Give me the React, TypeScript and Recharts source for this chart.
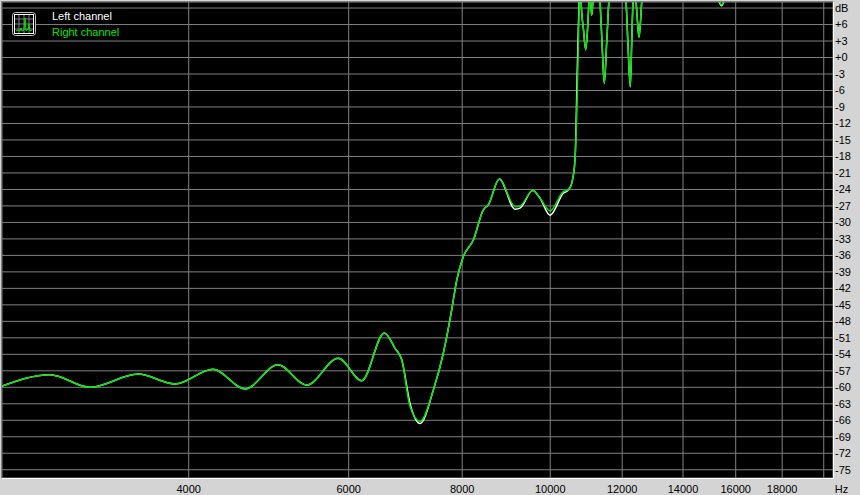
import { LineChart, Line, XAxis, YAxis, CartesianGrid } from 'recharts'

// frequency points (Hz)
const freqs = [
  2480, 2814, 3114, 3518, 3864, 4254, 4614, 5015, 5394, 5844,
  6202, 6568, 6748, 6864, 7010, 7189, 7436, 7626, 7790, 7890,
  8023, 8229, 8440, 8548, 8789, 9146, 9262, 9566, 9744, 9994,
  10337, 10468, 10559, 10648, 10710, 10740, 10770, 10790, 10811, 10880,
  10940, 10990, 11032, 11060, 11080, 11108, 11140, 11250, 11344, 11400,
  11468, 11540, 11605, 11870, 12116, 12180, 12249, 12290, 12333, 12380,
  12427, 12475, 12522, 12570, 12618, 13800, 15300, 15439, 15570, 18000, 20800,
]

const rightDb = [
  -59.9, -57.7, -60.0, -57.6, -59.4, -56.7, -60.3, -55.9, -59.6, -54.7,
  -58.8, -50.1, -52.9, -55.0, -63.5, -66.2, -60.5, -53.8, -45.9, -40.5,
  -36.2, -33.2, -27.7, -26.8, -22.1, -27.1, -27.0, -24.2, -25.6, -27.9,
  -24.4, -24.1, -22.9, -18.6, -6, 3, 12, 16, 10.5, 5,
  1.4, 5, 10.5, 14, 10, 7.7, 10, 20, 10.5, 3,
  -4.7, 3, 10.5, 22, 10.5, 2, -5.3, 2, 10.5, 14,
  10.5, 6.5, 3.7, 6.5, 10.5, 20, 10.6, 9.6, 10.6, 18, 16,
]

const leftDb = [
  -59.9, -57.7, -60.0, -57.6, -59.4, -56.7, -60.3, -55.9, -59.6, -54.7,
  -58.8, -50.1, -52.9, -55.0, -63.0, -66.6, -60.5, -53.8, -45.9, -40.5,
  -36.2, -33.2, -27.7, -26.8, -22.1, -27.6, -27.4, -24.2, -25.6, -28.7,
  -24.7, -24.1, -22.9, -18.6, -2, 6, 12, 16, 10.5, 5,
  1.4, 5, 10.5, 14, 10, 7.7, 10, 20, 10.5, 3,
  -4.7, 3, 10.5, 22, 10.5, 2, -5.3, 2, 10.5, 14,
  10.5, 6.5, 3.7, 6.5, 10.5, 20, 10.6, 9.4, 10.6, 18, 16,
]

const xTicks = [4000, 6000, 8000, 10000, 12000, 14000, 16000, 18000, 20000]
const yTicks = [
  9, 6, 3, 0, -3, -6, -9, -12, -15, -18, -21, -24, -27, -30, -33, -36, -39,
  -42, -45, -48, -51, -54, -57, -60, -63, -66, -69, -72, -75,
]

const data = freqs.map((f, i) => ({ f, left: leftDb[i], right: rightDb[i] }))

const FONT = '"Liberation Sans", Arial, sans-serif'
const GREEN = '#00e400'
const GRID = '#808080'

function XTick({ x, y, payload }: any) {
  if (payload.value === 20000) {
    return (
      <text x={x + 11} y={y + 13} fontSize={11} fontFamily={FONT} fill="#000" textAnchor="start">
        Hz
      </text>
    )
  }
  return (
    <text x={x} y={y + 13} fontSize={11} fontFamily={FONT} fill="#000" textAnchor="middle">
      {payload.value}
    </text>
  )
}

const yLabel = (v: number) => (v === 9 ? 'dB' : v >= 0 ? `+${v}` : `${v}`)

function LegendIcon() {
  return (
    <svg width={24} height={24} style={{ position: 'absolute', left: 12, top: 12 }}>
      <rect x={0.5} y={0.5} width={23} height={23} rx={3} fill="#000" stroke="#c0c0c0" />
      <rect x={2.5} y={2.5} width={19} height={19} fill="none" stroke="#fff" />
      {[7, 12, 17].map(p => (
        <g key={p}>
          <line x1={p} y1={3} x2={p} y2={21} stroke={GRID} />
          <line x1={3} y1={p} x2={21} y2={p} stroke={GRID} />
        </g>
      ))}
      <polyline
        points="4,19 6,18 8,19 9,16 10,19 12,18 13,6 14,19 16,17 17,12 18,19 20,18"
        fill="none"
        stroke={GREEN}
      />
    </svg>
  )
}

export default function App() {
  return (
    <div style={{ position: 'absolute', left: 0, top: 0, width: 860, height: 495, background: '#d4d4d4' }}>
      <LineChart width={860} height={495} data={data} margin={{ top: 2, right: 0, bottom: 0, left: 2 }}>
        <CartesianGrid fill="#000" stroke={GRID} strokeWidth={1} />
        <XAxis
          dataKey="f"
          type="number"
          scale="log"
          domain={[2492, 20475]}
          allowDataOverflow
          ticks={xTicks}
          interval={0}
          height={17}
          tickLine={false}
          axisLine={false}
          tickSize={0}
          tick={<XTick />}
        />
        <YAxis
          orientation="right"
          type="number"
          domain={[-76.5, 10.1]}
          allowDataOverflow
          ticks={yTicks}
          interval={0}
          width={27}
          tickLine={false}
          axisLine={false}
          tickSize={0}
          tickMargin={2}
          tickFormatter={yLabel}
          tick={{ fontSize: 11, fill: '#000', fontFamily: FONT }}
        />
        <Line
          type="monotone"
          dataKey="left"
          stroke="#ffffff"
          strokeWidth={1.5}
          dot={false}
          isAnimationActive={false}
        />
        <Line
          type="monotone"
          dataKey="right"
          stroke={GREEN}
          strokeWidth={1.5}
          dot={false}
          isAnimationActive={false}
        />
      </LineChart>

      {/* sunken frame round the plot */}
      <div
        style={{
          position: 'absolute',
          left: 1,
          top: 1,
          width: 833,
          height: 478,
          boxSizing: 'border-box',
          borderTop: `1px solid ${GRID}`,
          borderLeft: `1px solid ${GRID}`,
          borderRight: '1px solid #fff',
          borderBottom: '1px solid #fff',
          pointerEvents: 'none',
        }}
      />

      {/* legend */}
      <LegendIcon />
      <div style={{ position: 'absolute', left: 52, top: 8, fontFamily: FONT, fontSize: 11, lineHeight: '16px' }}>
        <div style={{ color: '#fff' }}>Left channel</div>
        <div style={{ color: GREEN }}>Right channel</div>
      </div>
    </div>
  )
}
